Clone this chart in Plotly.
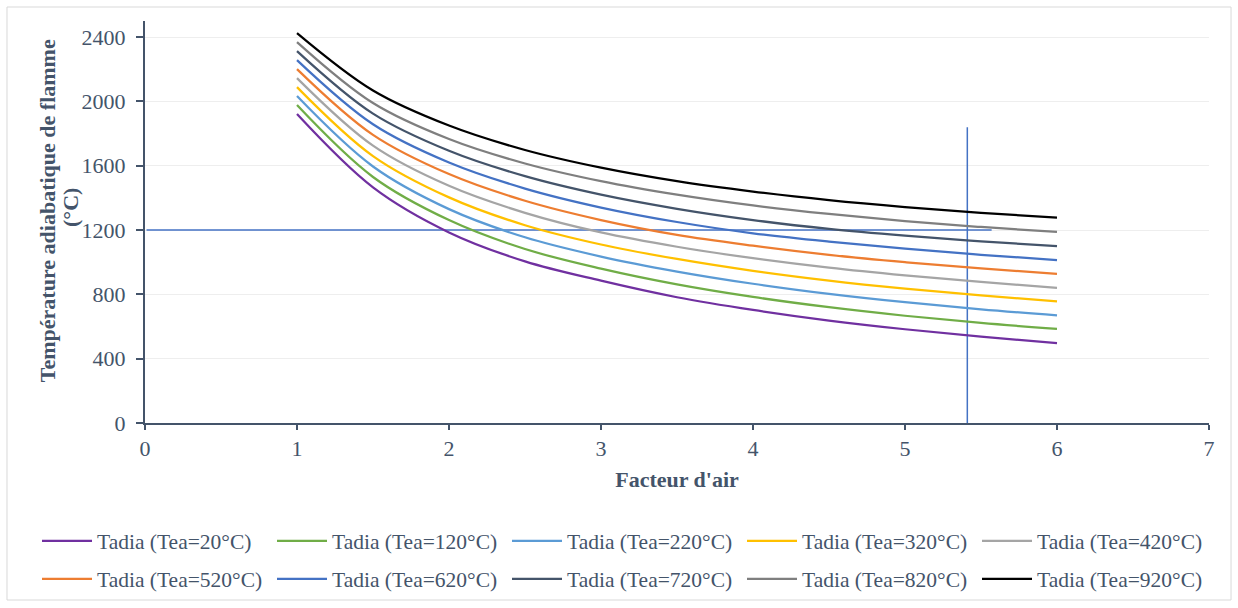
import plotly.graph_objects as go

# Air factor (lambda) values
lam = [1, 1.5, 2, 2.5, 3, 3.5, 4, 4.5, 5, 5.5, 6]

# Adiabatic flame temperature (°C) for each preheated-air temperature
t20  = [1921, 1465, 1185, 1005, 885, 782, 703, 637, 583, 537, 497]
t120 = [1977, 1530, 1262, 1082, 960, 862, 784, 720, 667, 622, 585]
t220 = [2033, 1595, 1330, 1155, 1035, 942, 866, 803, 751, 707, 670]
t320 = [2089, 1660, 1403, 1230, 1110, 1020, 946, 885, 835, 793, 757]
t420 = [2145, 1725, 1475, 1307, 1185, 1096, 1025, 966, 918, 877, 841]
t520 = [2201, 1792, 1548, 1382, 1262, 1170, 1103, 1046, 1000, 961, 928]
t620 = [2257, 1858, 1620, 1458, 1340, 1250, 1180, 1128, 1084, 1046, 1013]
t720 = [2313, 1924, 1693, 1535, 1420, 1332, 1262, 1207, 1165, 1130, 1100]
t820 = [2369, 1990, 1766, 1614, 1504, 1420, 1353, 1300, 1256, 1219, 1188]
t920 = [2425, 2068, 1850, 1698, 1588, 1504, 1439, 1386, 1343, 1307, 1277]

series_names = ["Tadia (Tea=20°C)", "Tadia (Tea=120°C)", "Tadia (Tea=220°C)",
                "Tadia (Tea=320°C)", "Tadia (Tea=420°C)", "Tadia (Tea=520°C)",
                "Tadia (Tea=620°C)", "Tadia (Tea=720°C)", "Tadia (Tea=820°C)",
                "Tadia (Tea=920°C)"]
series_values = [t20, t120, t220, t320, t420, t520, t620, t720, t820, t920]
series_colors = ["#7030A0", "#70AD47", "#5B9BD5", "#FFC000", "#A5A5A5",
                 "#ED7D31", "#4472C4", "#44546A", "#7F7F7F", "#000000"]

# Reference lines
ref_h_x = [0.01, 5.57]
ref_h_y = [1200, 1200]
ref_v_x = [5.41, 5.41]
ref_v_y = [0, 1840]

x_ticks = [0, 1, 2, 3, 4, 5, 6, 7]
y_ticks = [0, 400, 800, 1200, 1600, 2000, 2400]

x_title = "Facteur d'air"
y_title_lines = ["Température adiabatique de flamme", "(°C)"]

TXT = "#44546A"
FONT = "Liberation Serif, Times New Roman, serif"

fig = go.Figure()

fig.add_trace(go.Scatter(x=ref_h_x, y=ref_h_y, mode="lines",
                         line=dict(color="#4472C4", width=1.5),
                         showlegend=False, hoverinfo="skip"))
fig.add_trace(go.Scatter(x=ref_v_x, y=ref_v_y, mode="lines",
                         line=dict(color="#4472C4", width=1.5),
                         showlegend=False, hoverinfo="skip"))

for i, (name, vals, col) in enumerate(zip(series_names, series_values, series_colors)):
    fig.add_trace(go.Scatter(
        x=lam, y=vals, mode="lines", name=name,
        line=dict(color=col, width=2.25, shape="spline", smoothing=1.0),
        legend="legend" if i < 5 else "legend2",
    ))

legend_common = dict(
    orientation="h", xanchor="left", yanchor="middle",
    font=dict(family=FONT, size=21.5, color=TXT),
    bgcolor="rgba(0,0,0,0)", itemwidth=50,
    entrywidth=170, entrywidthmode="pixels",
    traceorder="normal", itemclick=False, itemdoubleclick=False,
)

fig.update_layout(
    width=1238, height=608,
    margin=dict(l=145, r=29, t=21, b=185, autoexpand=False),
    paper_bgcolor="white", plot_bgcolor="white",
    font=dict(family=FONT, size=22, color=TXT),
    xaxis=dict(
        range=[0, 7], tickvals=x_ticks, ticks="outside", ticklen=5, tickwidth=2,
        tickcolor=TXT, showline=True, linecolor=TXT, linewidth=2,
        showgrid=False, zeroline=False, automargin=False,
        tickfont=dict(family=FONT, size=22, color=TXT),
        title=dict(text="<b>" + x_title + "</b>",
                   font=dict(family=FONT, size=22, color=TXT), standoff=11),
    ),
    yaxis=dict(
        range=[0, 2500], tickvals=y_ticks, ticks="outside", ticklen=7, tickwidth=2,
        ticklabelstandoff=6,
        tickcolor=TXT, showline=True, linecolor=TXT, linewidth=2,
        showgrid=True, gridcolor="#EEEEEE", gridwidth=1, zeroline=False, automargin=False,
        tickfont=dict(family=FONT, size=22, color=TXT),
    ),
    legend=dict(x=-0.1015, y=-0.2935, **legend_common),
    legend2=dict(x=-0.1015, y=-0.388, **legend_common),
    annotations=[
        dict(text="<b>" + y_title_lines[0] + "</b>", xref="paper", yref="paper",
             x=-0.0921, y=0.527, xanchor="center", yanchor="middle", textangle=-90,
             showarrow=False, font=dict(family=FONT, size=22, color=TXT)),
        dict(text="<b>" + y_title_lines[1] + "</b>", xref="paper", yref="paper",
             x=-0.0695, y=0.535, xanchor="center", yanchor="middle", textangle=-90,
             showarrow=False, font=dict(family=FONT, size=22, color=TXT)),
    ],
    shapes=[dict(type="rect", xref="paper", yref="paper",
                 x0=-0.1297, x1=1.0207, y0=-0.4403, y1=1.0348,
                 line=dict(color="#D9D9D9", width=1), fillcolor="rgba(0,0,0,0)",
                 layer="below")],
    showlegend=True,
)

fig.write_html("out.html", config={"displayModeBar": False},
               post_script="document.body.style.margin='0';")
